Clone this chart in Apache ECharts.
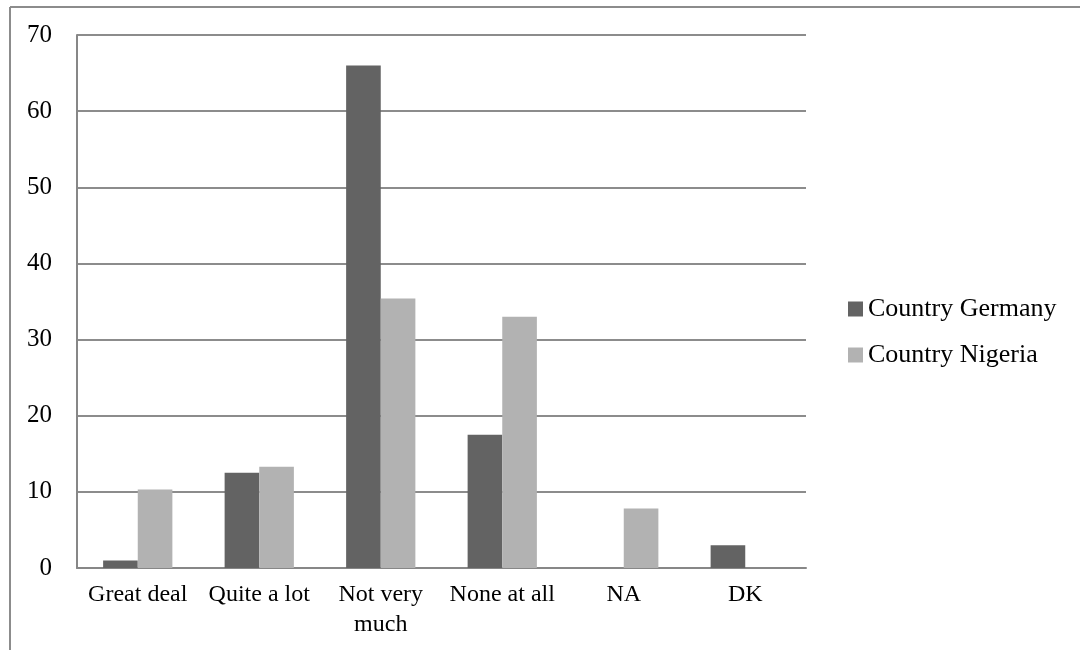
<!DOCTYPE html>
<html>
<head>
<meta charset="utf-8">
<script src="https://cdn.jsdelivr.net/npm/echarts@6/dist/echarts.min.js"></script>
<style>
html,body{margin:0;padding:0;background:#fff;}
#chart{width:1080px;height:650px;}
</style>
</head>
<body>
<div id="chart"></div>
<script>
var categories = ['Great deal', 'Quite a lot', 'Not very\nmuch', 'None at all', 'NA', 'DK'];
var germany = [1, 12.5, 66, 17.5, 0, 3];
var nigeria = [10.3, 13.3, 35.4, 33, 7.8, 0];
var seriesNames = ['Country Germany', 'Country Nigeria'];
var yTicks = [0, 10, 20, 30, 40, 50, 60, 70];

var FONT = '"Liberation Serif", "Times New Roman", serif';
var chart = echarts.init(document.getElementById('chart'), null, {renderer: 'canvas'});
chart.setOption({
  animation: false,
  backgroundColor: '#ffffff',
  graphic: [
    {type: 'line', shape: {x1: 10, y1: 7, x2: 1080, y2: 7}, style: {stroke: '#8c8c8c', lineWidth: 2}},
    {type: 'line', shape: {x1: 10, y1: 7, x2: 10, y2: 650}, style: {stroke: '#8c8c8c', lineWidth: 2}}
  ],
  grid: {left: 77, right: 274, top: 35, bottom: 82, containLabel: false},
  legend: {
    orient: 'vertical',
    left: 843,
    top: 291,
    itemWidth: 15,
    itemHeight: 15,
    itemGap: 20,
    icon: 'rect',
    textStyle: {fontFamily: FONT, fontSize: 26, color: '#000'},
    data: seriesNames
  },
  xAxis: {
    type: 'category',
    data: categories,
    axisLine: {show: true, lineStyle: {color: '#878787', width: 2}},
    axisTick: {show: false},
    axisLabel: {fontFamily: FONT, fontSize: 24, color: '#000', margin: 12, lineHeight: 30, interval: 0}
  },
  yAxis: {
    type: 'value',
    min: 0, max: 70, interval: 10,
    axisLine: {show: true, lineStyle: {color: '#878787', width: 2}},
    axisTick: {show: false},
    axisLabel: {fontFamily: FONT, fontSize: 25, color: '#000', margin: 25,
      formatter: function (v) { return yTicks.indexOf(v) >= 0 ? String(v) : ''; }},
    splitLine: {show: true, lineStyle: {color: '#8c8c8c', width: 2}}
  },
  series: [
    {name: seriesNames[0], type: 'bar', data: germany, barGap: '0%', barCategoryGap: '43%',
      itemStyle: {color: '#636363'}},
    {name: seriesNames[1], type: 'bar', data: nigeria, barGap: '0%', barCategoryGap: '43%',
      itemStyle: {color: '#b2b2b2'}}
  ]
});
</script>
</body>
</html>
